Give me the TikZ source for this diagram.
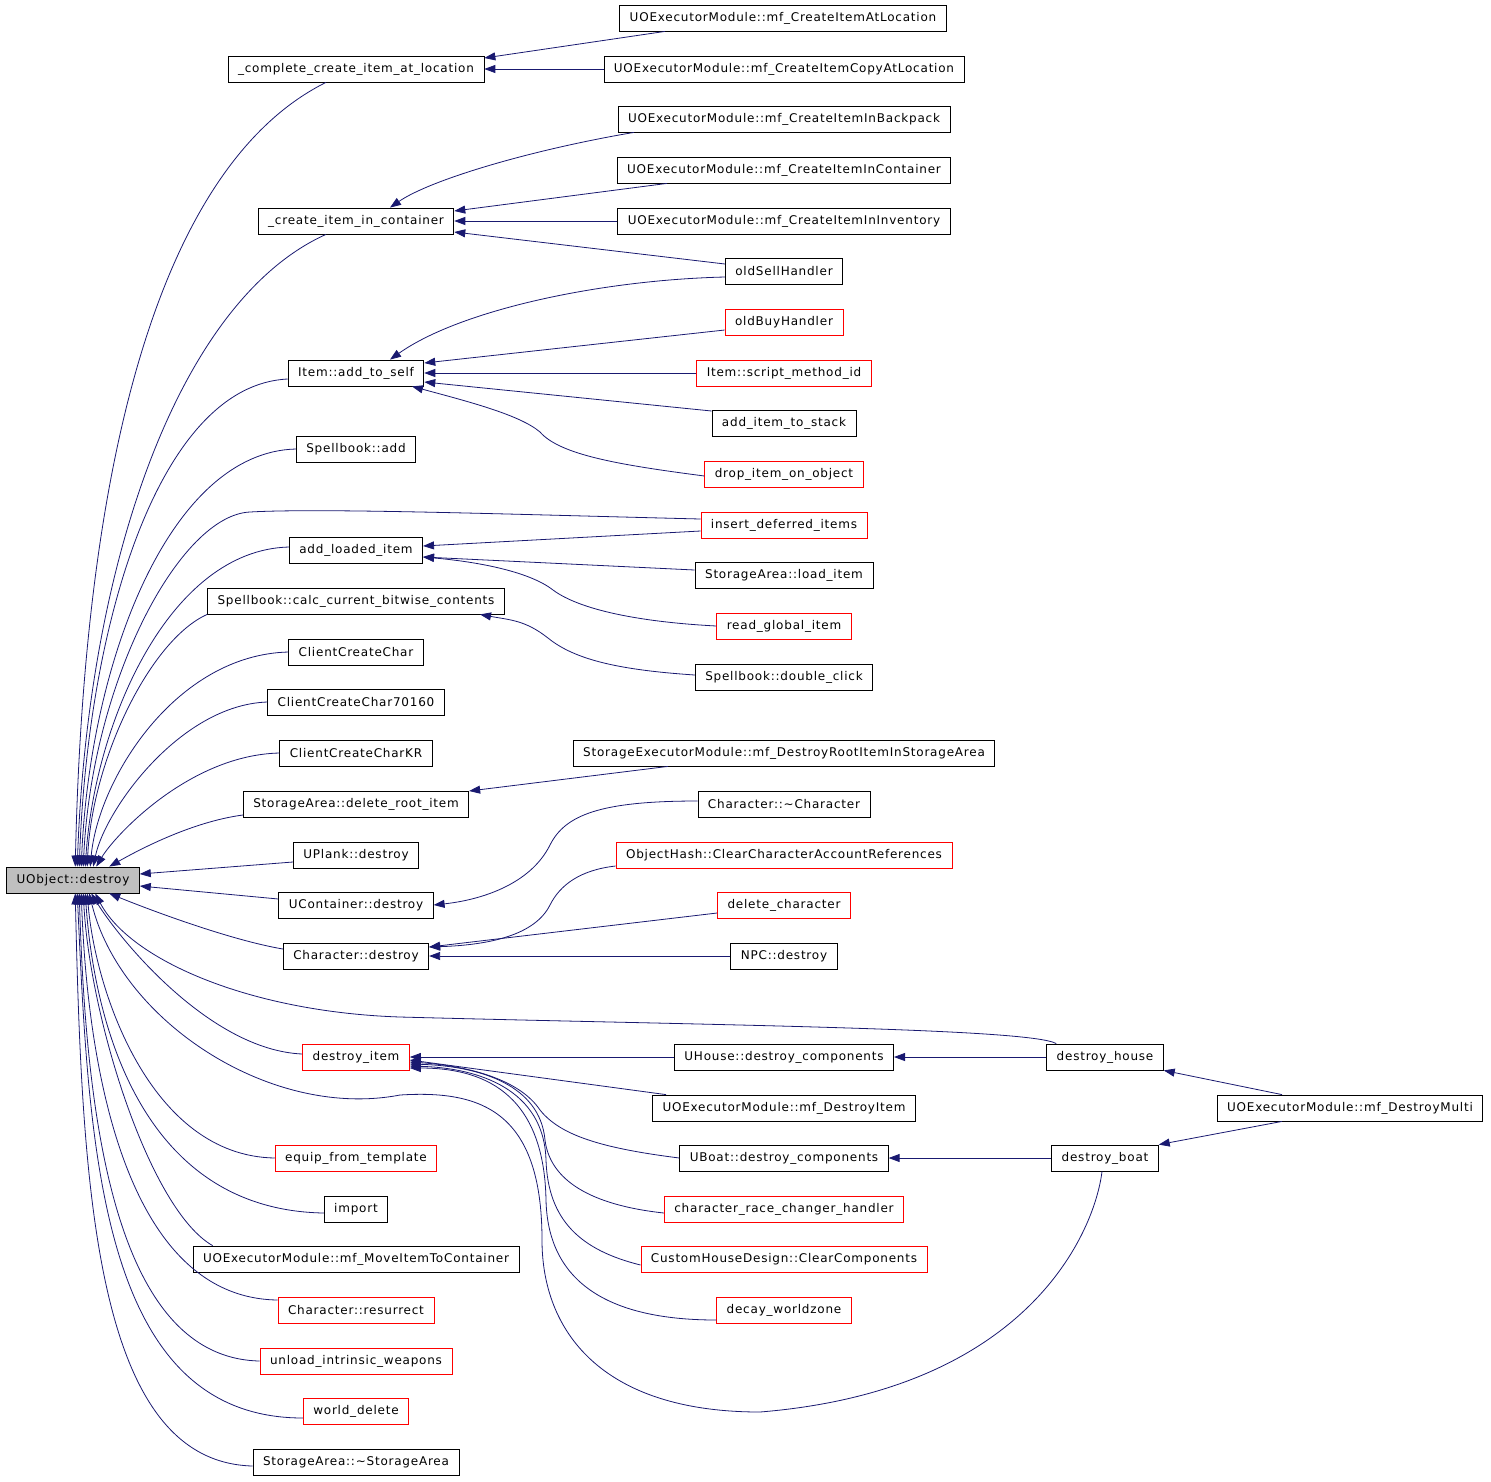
\documentclass[tikz,border=0pt]{standalone}
\usepackage{fontspec}
\usepackage{tikz}
\usetikzlibrary{arrows.meta}
\newfontfamily\dxfont{DejaVu Sans}[LetterSpace=6.5]
\definecolor{edgeblue}{HTML}{191970}
\definecolor{rootgray}{HTML}{BFBFBF}

\begin{document}
\begin{tikzpicture}[x=1pt,y=-1pt,
    fn/.style={draw=black,line width=0.8pt,fill=white,inner xsep=10pt,inner ysep=0pt,minimum height=26pt,font=\dxfont\fontsize{12}{14}\selectfont},
    fnred/.style={fn,draw=red},
    fnroot/.style={fn,fill=rootgray},
    call/.style={draw=edgeblue,line width=0.8pt,-{Triangle[length=11pt,width=8pt]}}]
\useasboundingbox (0,0) rectangle (1491,1481);
% left column
\node[fnroot] (uobj) at (73,880) {UObject::destroy};
\node[fn] (cciaL) at (356,69) {\_complete\_create\_item\_at\_location};
\node[fn] (ciic) at (356,221) {\_create\_item\_in\_container};
\node[fn] (ats) at (356,373) {Item::add\_to\_self};
\node[fn] (sadd) at (356,449) {Spellbook::add};
\node[fn] (ali) at (356,550) {add\_loaded\_item};
\node[fn] (calc) at (356,601) {Spellbook::calc\_current\_bitwise\_contents};
\node[fn] (ccc) at (356,652) {ClientCreateChar};
\node[fn] (cc7) at (356,702) {ClientCreateChar70160};
\node[fn] (cckr) at (356,753) {ClientCreateCharKR};
\node[fn] (sadr) at (356,804) {StorageArea::delete\_root\_item};
\node[fn] (upl) at (356,855) {UPlank::destroy};
\node[fn] (ucont) at (356,905) {UContainer::destroy};
\node[fn] (chd) at (356,956) {Character::destroy};
\node[fnred] (ditem) at (356,1057) {destroy\_item};
\node[fnred] (eft) at (356,1158) {equip\_from\_template};
\node[fn] (imp) at (356,1209) {import};
\node[fn] (mimc) at (356,1259) {UOExecutorModule::mf\_MoveItemToContainer};
\node[fnred] (resur) at (356,1310) {Character::resurrect};
\node[fnred] (unl) at (356,1361) {unload\_intrinsic\_weapons};
\node[fnred] (wd) at (356,1411) {world\_delete};
\node[fn] (sasa) at (356,1462) {StorageArea::\textasciitilde StorageArea};
% right column
\node[fn] (cial) at (783,18) {UOExecutorModule::mf\_CreateItemAtLocation};
\node[fn] (cicl) at (784,69) {UOExecutorModule::mf\_CreateItemCopyAtLocation};
\node[fn] (cib) at (784,119) {UOExecutorModule::mf\_CreateItemInBackpack};
\node[fn] (cic) at (784,170) {UOExecutorModule::mf\_CreateItemInContainer};
\node[fn] (cii) at (784,221) {UOExecutorModule::mf\_CreateItemInInventory};
\node[fn] (osh) at (784,271) {oldSellHandler};
\node[fnred] (obh) at (784,322) {oldBuyHandler};
\node[fnred] (smi) at (784,373) {Item::script\_method\_id};
\node[fn] (ais) at (784,423) {add\_item\_to\_stack};
\node[fnred] (dioo) at (784,474) {drop\_item\_on\_object};
\node[fnred] (idi) at (784,525) {insert\_deferred\_items};
\node[fn] (sli) at (784,575) {StorageArea::load\_item};
\node[fnred] (rgi) at (784,626) {read\_global\_item};
\node[fn] (sdc) at (784,677) {Spellbook::double\_click};
\node[fn] (sedr) at (784,753) {StorageExecutorModule::mf\_DestroyRootItemInStorageArea};
\node[fn] (cdtor) at (784,804) {Character::\textasciitilde Character};
\node[fnred] (ohc) at (784,855) {ObjectHash::ClearCharacterAccountReferences};
\node[fnred] (dc) at (784,905) {delete\_character};
\node[fn] (npc) at (784,956) {NPC::destroy};
\node[fn] (uhdc) at (784,1057) {UHouse::destroy\_components};
\node[fn] (mdi) at (784,1108) {UOExecutorModule::mf\_DestroyItem};
\node[fn] (ubdc) at (784,1158) {UBoat::destroy\_components};
\node[fnred] (crch) at (784,1209) {character\_race\_changer\_handler};
\node[fnred] (chdc) at (784,1259) {CustomHouseDesign::ClearComponents};
\node[fnred] (dwz) at (784,1310) {decay\_worldzone};
\node[fn] (dh) at (1105,1057) {destroy\_house};
\node[fn] (db) at (1105,1158) {destroy\_boat};
\node[fn] (mdm) at (1350,1108) {UOExecutorModule::mf\_DestroyMulti};

% calls into UObject::destroy, from above
\draw[call] ([xshift=-30]cciaL.south) .. controls (170,160) and (85,430) .. ([xshift=69]uobj.north west);
\draw[call] ([xshift=-30]ciic.south) .. controls (180,300) and (88,560) .. ([xshift=71]uobj.north west);
\draw[call] ([yshift=-6]ats.west) .. controls (160,385) and (88,620) .. ([xshift=73]uobj.north west);
\draw[call] (sadd.west) .. controls (170,452) and (90,660) .. ([xshift=75]uobj.north west);
\draw[call] ([yshift=6]idi.west) .. controls (500,514) and (320,508) .. (250,512) .. controls (180,515) and (92,680) .. ([xshift=77]uobj.north west);
\draw[call] ([yshift=3]ali.west) .. controls (170,550) and (95,720) .. ([xshift=79]uobj.north west);
\draw[call] (calc.south west) .. controls (150,640) and (92,760) .. ([xshift=81]uobj.north west);
\draw[call] (ccc.west) .. controls (175,655) and (98,780) .. ([xshift=84]uobj.north west);
\draw[call] (cc7.west) .. controls (180,705) and (105,810) .. ([xshift=87]uobj.north west);
\draw[call] (cckr.west) .. controls (190,755) and (115,835) .. ([xshift=90]uobj.north west);
\draw[call] ([yshift=-11]sadr.west) .. controls (190,822) and (135,852) .. ([xshift=103]uobj.north west);
\draw[call] ([yshift=-7]upl.west) -- ([yshift=6]uobj.east);
\draw[call] ([yshift=6]ucont.west) -- ([yshift=-6]uobj.east);
% calls into UObject::destroy, from below
\draw[call] ([yshift=7]chd.west) .. controls (230,940) and (150,910) .. ([xshift=103]uobj.south west);
\draw[call] ([xshift=10]dh.north west) .. controls (1030,1028) and (700,1025) .. (400,1017) .. controls (250,1012) and (130,960) .. ([xshift=89]uobj.south west);
\draw[call] ([yshift=3]ditem.west) .. controls (210,1050) and (120,940) .. ([xshift=85]uobj.south west);
\draw[call] ([xshift=-3]db.south) .. controls (1095,1230) and (1030,1390) .. (760,1412) .. controls (600,1412) and (542,1330) .. (542,1240) .. controls (542,1110) and (480,1090) .. (400,1095) .. controls (270,1120) and (120,1020) .. ([xshift=83]uobj.south west);
\draw[call] (eft.west) .. controls (150,1156) and (95,990) .. ([xshift=81]uobj.south west);
\draw[call] ([yshift=-4]imp.west) .. controls (140,1210) and (94,1020) .. ([xshift=79]uobj.south west);
\draw[call] ([xshift=20]mimc.north west) .. controls (150,1210) and (90,1020) .. ([xshift=77]uobj.south west);
\draw[call] ([yshift=10]resur.west) .. controls (130,1298) and (88,1080) .. ([xshift=75]uobj.south west);
\draw[call] (unl.west) .. controls (115,1358) and (86,1120) .. ([xshift=73]uobj.south west);
\draw[call] ([yshift=-7]wd.west) .. controls (100,1418) and (89,1150) .. ([xshift=71]uobj.south west);
\draw[call] ([yshift=-4]sasa.west) .. controls (95,1462) and (82,1190) .. ([xshift=69]uobj.south west);

% calls between the other functions
\draw[call] ([xshift=-118]cial.south) -- ([yshift=11]cciaL.east);
\draw[call] (cicl.west) -- (cciaL.east);
\draw[call] ([xshift=-150]cib.south) .. controls (530,150) and (430,180) .. ([xshift=34]ciic.north);
\draw[call] ([xshift=-117]cic.south) -- ([yshift=10]ciic.east);
\draw[call] (cii.west) -- (ciic.east);
\draw[call] ([yshift=7]osh.west) -- ([yshift=-11]ciic.east);
\draw[call] ([yshift=-6]osh.west) .. controls (600,280) and (460,310) .. ([xshift=34]ats.north);
\draw[call] ([yshift=-8]obh.west) -- ([yshift=10]ats.east);
\draw[call] (smi.west) -- (ats.east);
\draw[call] ([yshift=12]ais.west) -- ([yshift=-9]ats.east);
\draw[call] ([yshift=-2]dioo.west) .. controls (620,465) and (560,455) .. (540,432) .. controls (520,415) and (470,402) .. ([xshift=56]ats.south);
\draw[call] ([yshift=-6]idi.west) -- ([yshift=4]ali.east);
\draw[call] ([yshift=5]sli.west) -- ([yshift=-7]ali.east);
\draw[call] (rgi.west) .. controls (640,622) and (580,610) .. (553,590) .. controls (530,572) and (480,562) .. ([yshift=-7]ali.east);
\draw[call] ([yshift=2]sdc.west) .. controls (620,670) and (575,660) .. (548,638) .. controls (525,620) and (510,620) .. ([xshift=124]calc.south);
\draw[call] ([xshift=-116]sedr.south) -- ([yshift=13]sadr.east);
\draw[call] ([yshift=3]cdtor.west) .. controls (600,801) and (565,815) .. (550,845) .. controls (530,885) and (480,900) .. (ucont.east);
\draw[call] ([yshift=-11]ohc.west) .. controls (580,870) and (560,885) .. (550,905) .. controls (535,935) and (490,945) .. ([yshift=9]chd.east);
\draw[call] ([yshift=-8]dc.west) -- ([yshift=9]chd.east);
\draw[call] (npc.west) -- (chd.east);
\draw[call] (uhdc.west) -- (ditem.east);
\draw[call] ([xshift=-118]mdi.north) -- ([yshift=-3]ditem.east);
\draw[call] (ubdc.west) .. controls (600,1148) and (560,1135) .. (540,1110) .. controls (520,1080) and (470,1066) .. ([yshift=-5]ditem.east);
\draw[call] ([yshift=-4]crch.west) .. controls (590,1205) and (550,1180) .. (545,1140) .. controls (540,1085) and (480,1066) .. ([yshift=-7]ditem.east);
\draw[call] ([yshift=-6]chdc.west) .. controls (580,1250) and (548,1220) .. (546,1160) .. controls (544,1090) and (480,1068) .. ([yshift=-9]ditem.east);
\draw[call] ([yshift=-10]dwz.west) .. controls (620,1320) and (548,1290) .. (546,1200) .. controls (544,1090) and (480,1068) .. ([yshift=-11]ditem.east);
\draw[call] (dh.west) -- (uhdc.east);
\draw[call] (db.west) -- (ubdc.east);
\draw[call] ([xshift=-68]mdm.north) -- (dh.south east);
\draw[call] ([xshift=-68]mdm.south) -- (db.north east);
\end{tikzpicture}
\end{document}
